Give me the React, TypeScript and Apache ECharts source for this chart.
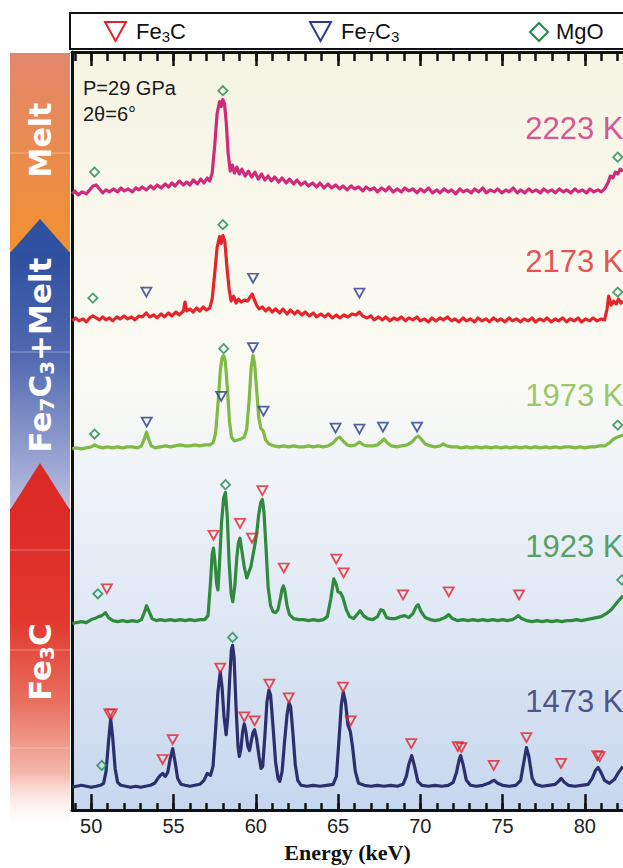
import React, { useEffect, useRef } from "react";
import * as echarts from "echarts";

// ---------- axis / labels ----------
const energyMin = 48.83;
const energyMax = 82.32;
const majorTicks = [50, 55, 60, 65, 70, 75, 80];
const minorTicks = [49, 50, 51, 52, 53, 54, 55, 56, 57, 58, 59, 60, 61, 62, 63, 64, 65, 66, 67, 68, 69, 70, 71, 72, 73, 74, 75, 76, 77, 78, 79, 80, 81, 82];
const tempLabels = ["2223 K", "2173 K", "1973 K", "1923 K", "1473 K"];
const offsets = [624, 495, 364, 190, 24];
const labelEnergy = 76.35;
const labelHeights = [63, 58, 54, 76, 85];

// ---------- spectra: [energy keV, intensity above own baseline] ----------
const melt2223 = [
  [48.85, -3], [49.0, 0], [49.2, -4], [49.45, -1], [49.7, -3], [49.9, 1], [50.1, 5], [50.3, 6], [50.5, 2], [50.7, -2], [50.9, 1], [51.1, -1], [51.35, 2], [51.6, -1], [51.8, 3], [52.0, 0], [52.25, 2], [52.5, -1], [52.7, 3], [52.9, 1], [53.1, 4], [53.35, 1], [53.6, 5], [53.8, 2], [54.0, 6], [54.25, 3], [54.5, 7], [54.7, 4], [54.9, 8], [55.1, 5], [55.35, 10], [55.6, 6], [55.8, 9], [56.0, 6], [56.2, 11], [56.45, 7], [56.65, 12], [56.85, 8], [57.05, 13], [57.2, 10], [57.35, 18], [57.5, 45], [57.65, 78], [57.8, 90], [57.9, 85], [58.0, 92], [58.1, 88], [58.2, 70], [58.32, 38], [58.45, 20], [58.58, 26], [58.7, 18], [58.85, 24], [59.0, 17], [59.15, 22], [59.35, 15], [59.55, 20], [59.75, 14], [59.95, 19], [60.15, 12], [60.35, 17], [60.55, 11], [60.75, 15], [60.95, 10], [61.15, 14], [61.4, 9], [61.6, 13], [61.85, 8], [62.05, 12], [62.3, 7], [62.5, 11], [62.75, 6], [63.0, 9], [63.2, 5], [63.45, 8], [63.7, 4], [63.9, 8], [64.15, 3], [64.4, 7], [64.6, 3], [64.85, 6], [65.1, 2], [65.3, 5], [65.55, 1], [65.8, 5], [66.0, 2], [66.25, 4], [66.5, 0], [66.7, 4], [66.95, 1], [67.2, 3], [67.4, -1], [67.65, 3], [67.9, 0], [68.1, 4], [68.35, -1], [68.6, 2], [68.85, -1], [69.05, 3], [69.3, 0], [69.55, 2], [69.8, -2], [70.0, 2], [70.25, -1], [70.5, 3], [70.75, -2], [71.0, 1], [71.2, -2], [71.45, 2], [71.7, -1], [71.9, 1], [72.15, -3], [72.4, 2], [72.6, -1], [72.85, 1], [73.1, -2], [73.3, 2], [73.55, -1], [73.8, 3], [74.0, -2], [74.25, 1], [74.5, -1], [74.7, 2], [74.95, -2], [75.2, 1], [75.4, -1], [75.65, 3], [75.9, -2], [76.1, 1], [76.35, -2], [76.6, 2], [76.8, -1], [77.05, 1], [77.3, -2], [77.5, 2], [77.75, -1], [78.0, 1], [78.2, -2], [78.45, 2], [78.7, -1], [78.9, 1], [79.15, -2], [79.4, 2], [79.6, -1], [79.85, 1], [80.1, -2], [80.3, 2], [80.55, -1], [80.8, 1], [81.0, -1], [81.2, 2], [81.4, 8], [81.55, 15], [81.7, 13], [81.85, 19], [82.0, 17], [82.15, 22], [82.32, 20],
];

const melt2173 = [
  [48.85, -2], [49.05, 1], [49.25, -2], [49.5, 0], [49.7, -3], [49.9, 1], [50.1, 3], [50.3, 1], [50.5, -1], [50.7, 2], [50.9, -1], [51.1, 1], [51.3, -2], [51.55, 2], [51.75, 0], [52.0, 3], [52.2, 0], [52.45, 2], [52.65, -1], [52.9, 3], [53.1, 2], [53.35, 6], [53.55, 2], [53.8, 4], [54.0, 1], [54.25, 5], [54.45, 2], [54.7, 6], [54.9, 3], [55.15, 7], [55.35, 4], [55.6, 8], [55.7, 17], [55.8, 8], [56.0, 10], [56.2, 7], [56.4, 11], [56.6, 8], [56.8, 12], [57.0, 9], [57.2, 11], [57.35, 20], [57.5, 45], [57.65, 72], [57.8, 83], [57.9, 76], [58.0, 84], [58.12, 78], [58.25, 52], [58.38, 30], [58.5, 18], [58.65, 23], [58.8, 16], [58.95, 20], [59.1, 17], [59.3, 19], [59.5, 18], [59.65, 22], [59.78, 25], [59.9, 20], [60.05, 14], [60.2, 10], [60.4, 12], [60.6, 8], [60.8, 11], [61.0, 7], [61.2, 10], [61.45, 6], [61.65, 10], [61.9, 5], [62.1, 9], [62.35, 5], [62.55, 8], [62.8, 4], [63.0, 7], [63.25, 3], [63.5, 6], [63.7, 2], [63.95, 5], [64.2, 2], [64.4, 5], [64.65, 1], [64.9, 4], [65.1, 1], [65.35, 4], [65.6, 2], [65.85, 5], [66.1, 4], [66.3, 7], [66.5, 3], [66.75, 1], [67.0, 3], [67.2, -1], [67.45, 2], [67.7, -1], [67.9, 2], [68.15, -2], [68.4, 1], [68.6, -1], [68.85, 2], [69.1, -2], [69.3, 1], [69.55, -1], [69.8, 2], [70.0, -2], [70.25, 0], [70.5, -3], [70.7, 1], [70.95, -2], [71.2, 1], [71.4, -1], [71.65, 2], [71.9, -2], [72.1, 0], [72.35, -3], [72.6, 1], [72.8, -2], [73.05, 0], [73.3, -3], [73.5, 1], [73.75, -2], [74.0, 0], [74.2, -3], [74.45, 1], [74.7, -2], [74.9, 0], [75.15, -3], [75.4, 1], [75.6, -2], [75.85, 0], [76.1, -3], [76.3, 0], [76.55, -2], [76.8, 1], [77.0, -3], [77.25, 0], [77.5, -2], [77.7, 1], [77.95, -3], [78.2, 0], [78.4, -2], [78.65, 1], [78.9, -3], [79.1, 0], [79.35, -2], [79.6, 1], [79.8, -3], [80.05, 0], [80.3, -2], [80.5, 1], [80.75, -2], [81.0, 0], [81.2, -1], [81.35, 10], [81.45, 23], [81.6, 14], [81.75, 18], [81.9, 15], [82.05, 20], [82.2, 16], [82.32, 18],
];

const mix1973 = [
  [48.85, 0], [49.1, 1], [49.4, 0], [49.7, 1], [50.0, 2], [50.2, 4], [50.45, 2], [50.7, 1], [51.0, 2], [51.3, 1], [51.6, 2], [51.9, 1], [52.2, 2], [52.5, 2], [52.8, 1], [53.05, 3], [53.2, 9], [53.36, 17], [53.5, 9], [53.65, 3], [53.9, 1], [54.2, 2], [54.5, 3], [54.8, 2], [55.1, 3], [55.4, 4], [55.7, 3], [56.0, 3], [56.3, 4], [56.6, 3], [56.9, 4], [57.2, 4], [57.4, 6], [57.55, 15], [57.7, 45], [57.85, 80], [57.95, 92], [58.05, 94], [58.15, 88], [58.28, 60], [58.4, 28], [58.52, 12], [58.7, 8], [58.9, 9], [59.1, 10], [59.3, 12], [59.45, 20], [59.6, 50], [59.72, 82], [59.83, 94], [59.93, 86], [60.05, 60], [60.18, 32], [60.3, 21], [60.45, 18], [60.6, 9], [60.8, 5], [61.1, 3], [61.4, 2], [61.7, 3], [62.0, 2], [62.3, 3], [62.6, 2], [62.9, 2], [63.2, 3], [63.5, 2], [63.8, 3], [64.1, 2], [64.4, 3], [64.7, 6], [64.9, 10], [65.1, 12], [65.3, 8], [65.55, 4], [65.8, 3], [66.05, 4], [66.3, 7], [66.55, 4], [66.8, 3], [67.1, 3], [67.4, 4], [67.6, 7], [67.8, 10], [68.0, 6], [68.25, 3], [68.55, 2], [68.85, 3], [69.2, 4], [69.5, 7], [69.7, 11], [69.88, 13], [70.05, 10], [70.3, 5], [70.6, 3], [70.9, 2], [71.2, 3], [71.4, 5], [71.6, 3], [71.9, 2], [72.2, 2], [72.5, 1], [72.8, 2], [73.1, 1], [73.4, 2], [73.7, 1], [74.0, 2], [74.3, 1], [74.6, 2], [74.9, 1], [75.2, 2], [75.5, 1], [75.8, 2], [76.1, 1], [76.4, 2], [76.7, 1], [77.0, 2], [77.3, 1], [77.6, 2], [77.9, 1], [78.2, 2], [78.5, 1], [78.8, 2], [79.1, 2], [79.4, 1], [79.7, 2], [80.0, 1], [80.3, 2], [80.6, 2], [80.9, 3], [81.2, 3], [81.5, 6], [81.75, 10], [82.0, 12], [82.32, 14],
];

const solid1923 = [
  [48.85, -2], [49.1, -1], [49.4, 0], [49.7, -1], [50.0, 2], [50.2, 3], [50.45, 5], [50.65, 6], [50.86, 9], [51.05, 4], [51.3, 1], [51.6, 0], [51.9, 1], [52.2, 0], [52.5, 1], [52.8, 0], [53.05, 2], [53.2, 8], [53.36, 16], [53.52, 10], [53.7, 3], [53.95, 1], [54.2, 2], [54.5, 1], [54.8, 2], [55.1, 1], [55.4, 2], [55.7, 1], [56.0, 2], [56.3, 1], [56.6, 2], [56.9, 2], [57.1, 6], [57.25, 40], [57.35, 68], [57.43, 74], [57.52, 60], [57.62, 38], [57.7, 32], [57.8, 60], [57.92, 100], [58.05, 125], [58.16, 130], [58.27, 105], [58.38, 60], [58.5, 28], [58.6, 20], [58.72, 35], [58.85, 65], [58.95, 80], [59.04, 84], [59.15, 72], [59.3, 55], [59.45, 44], [59.58, 50], [59.7, 55], [59.82, 66], [59.93, 76], [60.05, 88], [60.18, 108], [60.3, 120], [60.4, 123], [60.5, 110], [60.62, 75], [60.75, 35], [60.9, 16], [61.05, 10], [61.2, 9], [61.35, 12], [61.5, 24], [61.6, 33], [61.68, 36], [61.78, 30], [61.9, 16], [62.05, 7], [62.3, 3], [62.6, 2], [62.9, 2], [63.2, 1], [63.5, 2], [63.8, 1], [64.1, 2], [64.35, 5], [64.55, 22], [64.74, 43], [64.88, 38], [65.0, 30], [65.15, 29], [65.3, 24], [65.5, 12], [65.7, 5], [65.95, 3], [66.15, 7], [66.34, 11], [66.55, 6], [66.8, 3], [67.1, 2], [67.4, 5], [67.6, 12], [67.75, 11], [67.95, 4], [68.2, 3], [68.5, 3], [68.8, 5], [69.05, 6], [69.3, 4], [69.55, 8], [69.75, 15], [69.87, 17], [70.05, 10], [70.3, 4], [70.6, 2], [70.9, 1], [71.2, 2], [71.5, 4], [71.73, 7], [71.95, 3], [72.25, 1], [72.6, 2], [72.9, 1], [73.2, 2], [73.5, 1], [73.8, 2], [74.1, 1], [74.4, 2], [74.7, 1], [75.0, 2], [75.3, 1], [75.6, 2], [75.8, 4], [75.96, 6], [76.15, 3], [76.45, 1], [76.8, 0], [77.1, 1], [77.4, 0], [77.7, 1], [78.0, 0], [78.3, 1], [78.6, 0], [78.9, 1], [79.2, 1], [79.5, 2], [79.8, 1], [80.1, 2], [80.4, 3], [80.7, 4], [81.0, 5], [81.3, 8], [81.6, 12], [81.9, 18], [82.1, 22], [82.32, 26],
];

const solid1473 = [
  [48.85, -1], [49.1, 0], [49.4, 1], [49.7, 0], [50.0, -1], [50.3, 0], [50.55, 1], [50.75, 3], [50.9, 15], [51.05, 45], [51.18, 68], [51.3, 50], [51.45, 18], [51.6, 4], [51.8, 1], [52.1, 0], [52.4, -1], [52.7, 0], [53.0, -1], [53.3, 0], [53.6, 1], [53.85, 3], [54.05, 8], [54.2, 11], [54.34, 13], [54.5, 10], [54.65, 14], [54.8, 28], [54.95, 38], [55.1, 24], [55.25, 8], [55.45, 2], [55.7, 1], [56.0, 0], [56.3, 1], [56.6, 2], [56.85, 6], [57.05, 13], [57.25, 11], [57.4, 20], [57.55, 55], [57.7, 95], [57.84, 115], [57.95, 100], [58.07, 70], [58.2, 52], [58.3, 70], [58.42, 110], [58.52, 138], [58.59, 142], [58.68, 130], [58.8, 80], [58.92, 40], [59.0, 30], [59.1, 38], [59.2, 55], [59.3, 63], [59.4, 55], [59.52, 40], [59.62, 36], [59.72, 45], [59.83, 54], [59.93, 57], [60.05, 48], [60.2, 30], [60.32, 18], [60.42, 20], [60.55, 50], [60.68, 85], [60.8, 97], [60.9, 92], [61.05, 60], [61.2, 25], [61.35, 8], [61.46, 5], [61.6, 15], [61.75, 45], [61.9, 72], [62.02, 84], [62.12, 80], [62.25, 55], [62.4, 22], [62.55, 6], [62.75, 1], [63.1, 0], [63.5, 1], [63.9, 0], [64.3, 1], [64.7, 2], [64.9, 10], [65.05, 45], [65.2, 82], [65.32, 95], [65.45, 85], [65.6, 62], [65.75, 55], [65.88, 40], [66.05, 15], [66.25, 3], [66.6, 1], [67.0, 0], [67.4, 1], [67.8, 0], [68.2, 1], [68.6, 0], [68.95, 2], [69.15, 10], [69.3, 22], [69.48, 31], [69.65, 20], [69.85, 5], [70.1, 1], [70.5, 0], [70.9, 1], [71.3, 0], [71.7, 1], [72.0, 4], [72.2, 14], [72.35, 26], [72.45, 31], [72.6, 22], [72.8, 6], [73.05, 1], [73.4, 0], [73.8, 1], [74.15, 3], [74.35, 5], [74.5, 6], [74.7, 3], [75.0, 1], [75.4, 0], [75.8, 1], [76.1, 6], [76.3, 25], [76.45, 39], [76.6, 30], [76.8, 8], [77.0, 2], [77.4, 0], [77.8, 1], [78.2, 2], [78.4, 5], [78.56, 8], [78.75, 4], [79.0, 1], [79.4, 0], [79.8, 1], [80.2, 2], [80.45, 8], [80.65, 16], [80.8, 19], [80.95, 15], [81.2, 6], [81.5, 3], [81.8, 7], [82.05, 14], [82.32, 20],
];

// ---------- peak markers: [energy keV, height above own baseline] ----------
const mgoMarks2223 = [[50.2, 19], [58.0, 101], [82.0, 34]];
const mgoMarks2173 = [[50.1, 21], [58.0, 95], [82.0, 27]];
const fe7c3Marks2173 = [[53.35, 27], [59.83, 41], [66.3, 26]];
const mgoMarks1973 = [[50.2, 15], [58.05, 101], [82.0, 24]];
const fe7c3Marks1973 = [[53.37, 27], [57.9, 53], [59.83, 102], [60.47, 38], [64.85, 21], [66.3, 20], [67.73, 22], [69.8, 22]];
const mgoMarks1923 = [[50.4, 28], [58.16, 138], [82.25, 42]];
const fe3cMarks1923 = [[50.95, 33], [57.43, 87], [59.04, 99], [59.77, 84], [60.4, 132], [61.7, 54], [64.89, 63], [65.34, 49], [68.95, 27], [71.73, 30], [76.0, 27]];
const mgoMarks1473 = [[50.64, 21], [58.59, 150]];
const fe3cMarks1473 = [[51.1, 73], [51.25, 73], [54.34, 27], [54.95, 47], [57.84, 119], [59.3, 70], [59.93, 66], [60.83, 103], [62.0, 89], [65.3, 100], [65.77, 66], [69.45, 43], [72.28, 40], [72.5, 39], [74.46, 21], [76.45, 49], [78.55, 23], [80.76, 31], [80.9, 30]];

const spectra = [melt2223, melt2173, mix1973, solid1923, solid1473];
const lineColors = ["#d02a7b", "#e3262b", "#7fba45", "#2f8a3d", "#2c2f6d"];
const RED = "#e2222b";
const BLUE = "#2a3a8e";
const GREEN = "#1f8a4f";
const SANS = "'Liberation Sans', Arial, Helvetica, sans-serif";

const markerGroups = [
  { data: mgoMarks2223, idx: 0, kind: "mgo" },
  { data: mgoMarks2173, idx: 1, kind: "mgo" },
  { data: fe7c3Marks2173, idx: 1, kind: "fe7c3" },
  { data: mgoMarks1973, idx: 2, kind: "mgo" },
  { data: fe7c3Marks1973, idx: 2, kind: "fe7c3" },
  { data: mgoMarks1923, idx: 3, kind: "mgo" },
  { data: fe3cMarks1923, idx: 3, kind: "fe3c" },
  { data: mgoMarks1473, idx: 4, kind: "mgo" },
  { data: fe3cMarks1473, idx: 4, kind: "fe3c" },
];

function buildOption() {
  const lg = (stops: [number, string][]) =>
    new echarts.graphic.LinearGradient(0, 0, 0, 1, stops.map(([o, c]) => ({ offset: o, color: c })));

  const series: any[] = [];
  spectra.forEach((s, i) => {
    series.push({
      type: "line",
      data: s.map(([e, v]) => [e, v + offsets[i]]),
      showSymbol: false,
      symbol: "none",
      lineStyle: { color: lineColors[i], width: 3.2, join: "round" },
      z: 3,
      silent: true,
    });
  });
  markerGroups.forEach((g) => {
    const isMgo = g.kind === "mgo";
    const col = g.kind === "fe3c" ? RED : g.kind === "fe7c3" ? BLUE : GREEN;
    series.push({
      type: "scatter",
      data: g.data.map(([e, v]) => [e, v + offsets[g.idx]]),
      symbol: isMgo ? "rect" : "triangle",
      symbolRotate: isMgo ? 45 : 180,
      symbolSize: isMgo ? [6.5, 6.5] : [10, 9],
      itemStyle: { color: "rgba(0,0,0,0)", borderColor: col, borderWidth: 1.8 },
      z: 5,
      silent: true,
    });
  });
  tempLabels.forEach((t, i) => {
    series.push({
      type: "scatter",
      data: [[labelEnergy, labelHeights[i] + offsets[i]]],
      symbolSize: 1,
      itemStyle: { color: "rgba(0,0,0,0)" },
      label: {
        show: true,
        position: "right",
        distance: 0,
        formatter: t,
        color: lineColors[i],
        fontSize: 31,
        fontFamily: SANS,
      },
      z: 6,
      silent: true,
    });
  });

  const baseX = { type: "value", min: energyMin, max: energyMax, gridIndex: 0 };
  const tickStyle = { color: "#111", width: 2.5 };

  const barText = (txt: string, cy: number, rich?: any) => ({
    type: "text",
    x: 40,
    y: cy,
    rotation: Math.PI / 2,
    z: 50,
    style: rich
      ? { text: txt, rich, align: "center", verticalAlign: "middle" }
      : { text: txt, fontSize: 30, fontWeight: "bold", fontFamily: "'DejaVu Sans', sans-serif", fill: "#fff", align: "center", verticalAlign: "middle" },
  });
  const barRich = {
    a: { fontSize: 31, fontWeight: "bold", fontFamily: "'DejaVu Sans', sans-serif", fill: "#fff", lineHeight: 34 },
    s: { fontSize: 20, fontWeight: "bold", fontFamily: "'DejaVu Sans', sans-serif", fill: "#fff", lineHeight: 20, verticalAlign: "bottom" },
  };
  const legRich = {
    n: { fontSize: 22, fontFamily: SANS, fill: "#111", lineHeight: 26 },
    s: { fontSize: 15, fontFamily: SANS, fill: "#111", lineHeight: 13, verticalAlign: "bottom" },
  };

  const graphic: any[] = [
    // left phase bar
    { type: "rect", z: 40, shape: { x: 10, y: 53, width: 60, height: 200 }, style: { fill: lg([[0, "#e2876e"], [0.5, "#ea8b4e"], [1, "#f29131"]]) } },
    { type: "rect", z: 40, shape: { x: 10, y: 252, width: 60, height: 258 }, style: { fill: lg([[0, "#2e4f9f"], [0.4, "#5169b0"], [0.75, "#8f9bcc"], [1, "#bcc1e2"]]) } },
    { type: "polygon", z: 41, shape: { points: [[10, 253], [70, 253], [40, 219]] }, style: { fill: "#2f51a0" } },
    { type: "rect", z: 40, shape: { x: 10, y: 509, width: 60, height: 322 }, style: { fill: lg([[0, "#dc2a27"], [0.35, "#e2392f"], [0.6, "#e8705f"], [0.82, "#f4b8aa"], [1, "rgba(255,255,255,0)"]]) } },
    { type: "polygon", z: 41, shape: { points: [[10, 510], [70, 510], [40, 463]] }, style: { fill: "#dc2a27" } },
    ...[153, 352, 550, 650, 748].map((y) => ({ type: "line", z: 42, shape: { x1: 10, y1: y, x2: 70, y2: y }, style: { stroke: "rgba(255,255,255,0.35)", lineWidth: 1 } })),
    barText("Melt", 140),
    barText("{a|Fe}{s|7}{a|C}{s|3}{a|+Melt}", 355, barRich),
    barText("{a|Fe}{s|3}{a|C}", 662, barRich),
    // legend box
    { type: "rect", z: 40, shape: { x: 70, y: 13, width: 600, height: 36 }, style: { fill: "#fff", stroke: "#111", lineWidth: 2 } },
    { type: "polygon", z: 41, shape: { points: [[105, 22], [126, 22], [115.5, 41]] }, style: { fill: "none", stroke: RED, lineWidth: 2 } },
    { type: "text", z: 41, x: 136, y: 31, style: { text: "{n|Fe}{s|3}{n|C}", rich: legRich, align: "left", verticalAlign: "middle" } },
    { type: "polygon", z: 41, shape: { points: [[310, 22], [331, 22], [320.5, 41]] }, style: { fill: "none", stroke: BLUE, lineWidth: 2 } },
    { type: "text", z: 41, x: 341, y: 31, style: { text: "{n|Fe}{s|7}{n|C}{s|3}", rich: legRich, align: "left", verticalAlign: "middle" } },
    { type: "polygon", z: 41, shape: { points: [[539, 23], [548, 32], [539, 41], [530, 32]] }, style: { fill: "none", stroke: GREEN, lineWidth: 2 } },
    { type: "text", z: 41, x: 556, y: 31, style: { text: "MgO", fontSize: 22, fontFamily: SANS, fill: "#111", align: "left", verticalAlign: "middle" } },
    // conditions
    { type: "text", z: 41, x: 83, y: 88, style: { text: "P=29 GPa", fontSize: 20, fontFamily: SANS, fill: "#1a1a1a", verticalAlign: "middle" } },
    { type: "text", z: 41, x: 83, y: 114, style: { text: "2θ=6°", fontSize: 20, fontFamily: SANS, fill: "#1a1a1a", verticalAlign: "middle" } },
  ];

  return {
    animation: false,
    backgroundColor: "#fff",
    grid: {
      left: 72,
      right: 0,
      top: 52,
      bottom: 52,
      show: true,
      borderWidth: 0,
      backgroundColor: lg([[0, "#f6f4e2"], [0.42, "#fbfbf4"], [0.58, "#eef2f8"], [1, "#c6d7ee"]]),
    },
    xAxis: [
      {
        ...baseX,
        position: "bottom",
        axisLine: { show: true, onZero: false, lineStyle: { color: "#111", width: 3 } },
        axisTick: { show: true, inside: true, length: 16, lineStyle: tickStyle, customValues: majorTicks },
        axisLabel: { show: true, customValues: majorTicks, fontSize: 20, color: "#222", margin: 6, fontFamily: SANS },
        splitLine: { show: false },
        name: "Energy (keV)",
        nameLocation: "middle",
        nameGap: 30,
        nameTextStyle: { fontFamily: "'Liberation Serif', 'Times New Roman', serif", fontWeight: "bold", fontSize: 22, color: "#111" },
      },
      {
        ...baseX,
        position: "bottom",
        axisLine: { show: false, onZero: false },
        axisTick: { show: true, inside: true, length: 7, lineStyle: tickStyle, customValues: minorTicks },
        axisLabel: { show: false },
        splitLine: { show: false },
      },
      {
        ...baseX,
        position: "top",
        axisLine: { show: true, onZero: false, lineStyle: { color: "#111", width: 3 } },
        axisTick: { show: true, inside: true, length: 14, lineStyle: tickStyle, customValues: majorTicks },
        axisLabel: { show: false },
        splitLine: { show: false },
      },
      {
        ...baseX,
        position: "top",
        axisLine: { show: false, onZero: false },
        axisTick: { show: true, inside: true, length: 9, lineStyle: tickStyle, customValues: minorTicks },
        axisLabel: { show: false },
        splitLine: { show: false },
      },
    ],
    yAxis: {
      type: "value",
      min: 0,
      max: 764,
      position: "left",
      axisLine: { show: true, onZero: false, lineStyle: { color: "#111", width: 3 } },
      axisTick: { show: false },
      axisLabel: { show: false },
      splitLine: { show: false },
    },
    series,
    graphic,
  };
}

export default function App() {
  const ref = useRef<HTMLDivElement>(null);
  useEffect(() => {
    if (!ref.current) return;
    const chart = echarts.init(ref.current, undefined, { renderer: "svg" });
    chart.setOption(buildOption() as any);
    return () => chart.dispose();
  }, []);
  return (
    <div
      ref={ref}
      style={{ position: "fixed", left: 0, top: 0, width: 623, height: 868, background: "#fff" }}
    />
  );
}
